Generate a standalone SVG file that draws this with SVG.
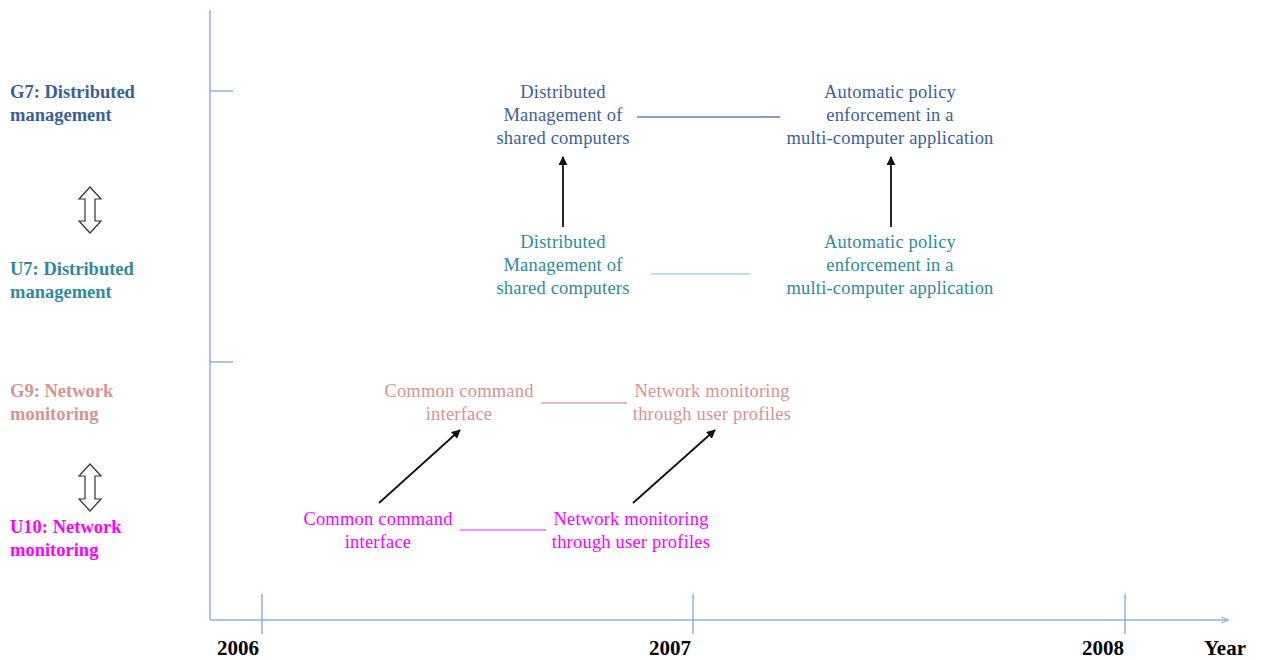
<svg xmlns="http://www.w3.org/2000/svg" width="1262" height="660" viewBox="0 0 1262 660">
<style>
.lbl{font-family:"Liberation Serif",serif;font-weight:bold;font-size:18.5px}
.nd{font-family:"Liberation Serif",serif;font-size:18.5px;text-anchor:middle;letter-spacing:0.2px}
.yr{font-family:"Liberation Serif",serif;font-weight:bold;font-size:21px;text-anchor:middle}
.ax{stroke:#8eb0dc;stroke-width:1.5;fill:none}
.g7{fill:#3b5f99}.u7{fill:#2f8a9f}.g9{fill:#d99393}.u10{fill:#ff00ff}
.arr{stroke:#111;stroke-width:1.8;fill:none;marker-end:url(#ah)}
.dbl{fill:#fff;stroke:#333;stroke-width:1.2}
</style>
<defs>
<marker id="ah" viewBox="0 0 10 10" refX="9" refY="5" markerWidth="5" markerHeight="5" orient="auto"><path d="M0,0 L10,5 L0,10 z" fill="#111"/></marker>
<marker id="axh" viewBox="0 0 10 10" refX="9" refY="5" markerWidth="5" markerHeight="5" orient="auto"><path d="M0,1 L10,5 L0,9" fill="none" stroke="#8eb0dc" stroke-width="1.5"/></marker>
</defs>
<rect width="1262" height="660" fill="#fff"/>
<g id="axes">
<line class="ax" x1="210" y1="10" x2="210" y2="620"/>
<line class="ax" x1="210" y1="620" x2="1228" y2="620" marker-end="url(#axh)"/>
<line class="ax" x1="262" y1="594" x2="262" y2="634"/>
<line class="ax" x1="693" y1="594" x2="693" y2="634"/>
<line class="ax" x1="1125" y1="594" x2="1125" y2="634"/>
<line class="ax" x1="210" y1="91" x2="233" y2="91"/>
<line class="ax" x1="210" y1="362" x2="233" y2="362"/>
<text class="yr" x="238" y="655">2006</text>
<text class="yr" x="670" y="655">2007</text>
<text class="yr" x="1103" y="655">2008</text>
<text class="yr" x="1225" y="655">Year</text>
</g>
<g id="labels">
<text class="lbl g7" x="10" y="98">G7: Distributed</text>
<text class="lbl g7" x="10" y="121">management</text>
<text class="lbl u7" x="10" y="275">U7: Distributed</text>
<text class="lbl u7" x="10" y="298">management</text>
<text class="lbl g9" x="10" y="397">G9: Network</text>
<text class="lbl g9" x="10" y="420">monitoring</text>
<text class="lbl u10" x="10" y="533">U10: Network</text>
<text class="lbl u10" x="10" y="556">monitoring</text>
<path class="dbl" d="M90,187 L101,199 L95,199 L95,221 L101,221 L90,233 L79,221 L85,221 L85,199 L79,199 Z"/>
<path class="dbl" d="M90,464 L101,476 L95,476 L95,499 L101,499 L90,511 L79,499 L85,499 L85,476 L79,476 Z"/>
</g>
<g id="g7-dm"><text class="nd g7" x="563" y="98">Distributed</text><text class="nd g7" x="563" y="121">Management of</text><text class="nd g7" x="563" y="144">shared computers</text></g>
<g id="g7-ape"><text class="nd g7" x="890" y="98">Automatic policy</text><text class="nd g7" x="890" y="121">enforcement in a</text><text class="nd g7" x="890" y="144">multi-computer application</text></g>
<g id="u7-dm"><text class="nd u7" x="563" y="248">Distributed</text><text class="nd u7" x="563" y="271">Management of</text><text class="nd u7" x="563" y="294">shared computers</text></g>
<g id="u7-ape"><text class="nd u7" x="890" y="248">Automatic policy</text><text class="nd u7" x="890" y="271">enforcement in a</text><text class="nd u7" x="890" y="294">multi-computer application</text></g>
<g id="g9-cci"><text class="nd g9" x="459" y="397">Common command</text><text class="nd g9" x="459" y="420">interface</text></g>
<g id="g9-nm"><text class="nd g9" x="712" y="397">Network monitoring</text><text class="nd g9" x="712" y="420">through user profiles</text></g>
<g id="u10-cci"><text class="nd u10" x="378" y="525">Common command</text><text class="nd u10" x="378" y="548">interface</text></g>
<g id="u10-nm"><text class="nd u10" x="631" y="525">Network monitoring</text><text class="nd u10" x="631" y="548">through user profiles</text></g>
<g id="connectors">
<line x1="637" y1="117" x2="780" y2="117" stroke="#5f80b4" stroke-width="1.5"/>
<line x1="651" y1="274" x2="750" y2="274" stroke="#9fd6e0" stroke-width="1.5"/>
<line x1="541" y1="403" x2="627" y2="403" stroke="#e6a5a5" stroke-width="1.5"/>
<line x1="460" y1="530" x2="546" y2="530" stroke="#ff66ff" stroke-width="1.5"/>
<line class="arr" x1="563" y1="227" x2="563" y2="157"/>
<line class="arr" x1="891" y1="227" x2="891" y2="157"/>
<line class="arr" x1="379" y1="503" x2="460" y2="430"/>
<line class="arr" x1="633" y1="503" x2="715" y2="430"/>
</g>
</svg>
